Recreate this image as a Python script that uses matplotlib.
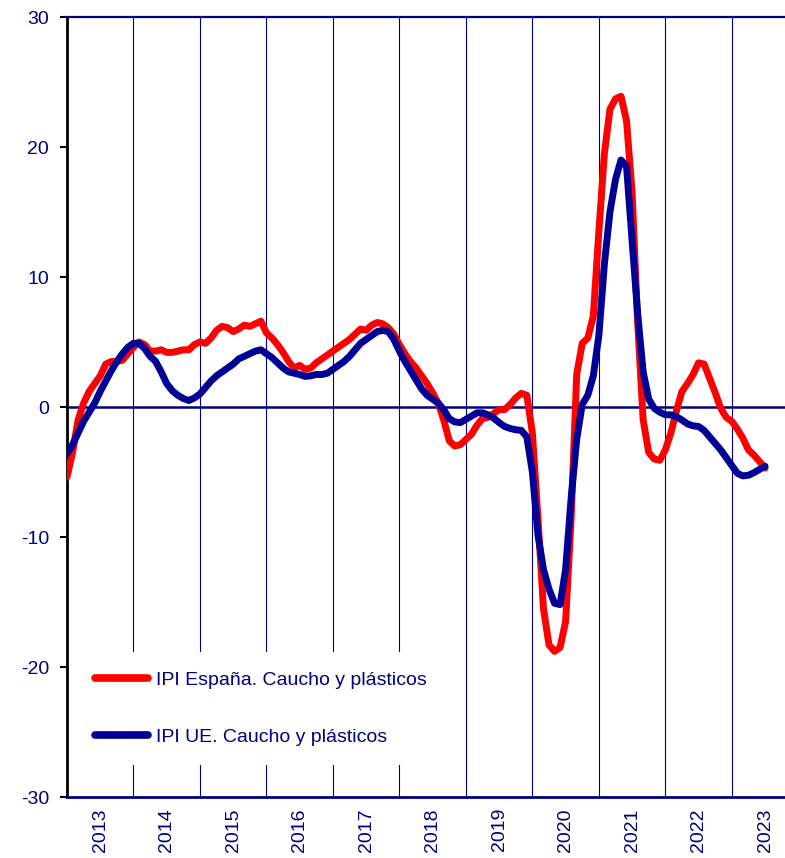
"""IPI Caucho y plásticos: España vs UE (tasa de variación, %)"""

import numpy as np
import matplotlib
matplotlib.use("Agg")
import matplotlib.pyplot as plt

plt.rcParams['font.family'] = ['Liberation Sans', 'DejaVu Sans']
plt.rcParams['axes.unicode_minus'] = False

# Monthly data, Jan 2013 - Jul 2023
start_year = 2013
years = list(range(2013, 2024))

ipi_es = [
    # 2013
    -5.4, -3.5, -1.0, 0.3, 1.2, 1.8, 2.4, 3.3, 3.5, 3.5, 3.6, 4.1,
    # 2014
    4.6, 5.0, 4.8, 4.3, 4.3, 4.4, 4.2, 4.2, 4.3, 4.4, 4.4, 4.8,
    # 2015
    5.0, 4.9, 5.3, 5.9, 6.2, 6.1, 5.8, 6.0, 6.3, 6.2, 6.4, 6.6,
    # 2016
    5.7, 5.3, 4.8, 4.2, 3.5, 3.0, 3.2, 2.9, 3.0, 3.4, 3.7, 4.0,
    # 2017
    4.3, 4.6, 4.9, 5.2, 5.6, 6.0, 5.9, 6.3, 6.5, 6.4, 6.1, 5.6,
    # 2018
    4.8, 4.1, 3.5, 3.0, 2.4, 1.8, 1.1, 0.3, -1.0, -2.6, -3.0, -2.9,
    # 2019
    -2.5, -2.1, -1.4, -0.9, -0.8, -0.5, -0.2, -0.2, 0.2, 0.7, 1.05, 0.9,
    # 2020
    -2.0, -8.5, -15.5, -18.3, -18.8, -18.5, -16.5, -8.5, 2.5, 4.9, 5.3, 7.0,
    # 2021
    13.5, 19.5, 22.9, 23.7, 23.9, 22.0, 16.5, 6.5, -1.0, -3.5, -4.0, -4.1,
    # 2022
    -3.3, -2.0, -0.3, 1.2, 1.8, 2.5, 3.4, 3.3, 2.2, 1.1, -0.1, -0.8,
    # 2023
    -1.1, -1.7, -2.4, -3.3, -3.7, -4.2, -4.7,
]

ipi_ue = [
    # 2013
    -3.6, -2.9, -2.0, -1.1, -0.4, 0.3, 1.2, 2.0, 2.8, 3.5, 4.1, 4.6,
    # 2014
    4.9, 4.9, 4.5, 3.9, 3.5, 2.7, 1.8, 1.25, 0.9, 0.65, 0.5, 0.7,
    # 2015
    1.0, 1.5, 2.0, 2.4, 2.7, 3.0, 3.3, 3.7, 3.9, 4.1, 4.3, 4.4,
    # 2016
    4.1, 3.8, 3.4, 3.0, 2.7, 2.6, 2.5, 2.35, 2.4, 2.5, 2.5, 2.6,
    # 2017
    2.9, 3.2, 3.5, 3.9, 4.4, 4.9, 5.2, 5.5, 5.8, 5.9, 5.8, 5.2,
    # 2018
    4.3, 3.5, 2.8, 2.1, 1.4, 0.9, 0.6, 0.3, -0.2, -0.9, -1.15, -1.2,
    # 2019
    -0.95, -0.7, -0.45, -0.45, -0.6, -0.85, -1.2, -1.5, -1.65, -1.75, -1.8, -2.3,
    # 2020
    -5.0, -9.8, -12.5, -14.0, -15.1, -15.2, -12.5, -7.0, -2.5, 0.2, 0.9, 2.4,
    # 2021
    5.5, 11.0, 15.0, 17.5, 19.0, 18.5, 12.8, 7.2, 2.7, 0.6, -0.1, -0.4,
    # 2022
    -0.6, -0.6, -0.75, -1.0, -1.3, -1.45, -1.5, -1.8, -2.3, -2.8, -3.3, -3.9,
    # 2023
    -4.5, -5.1, -5.3, -5.25, -5.05, -4.8, -4.55,
]

labels = ['IPI España. Caucho y plásticos', 'IPI UE. Caucho y plásticos']

navy = '#000080'
red = '#FF0000'
blue = '#000096'

x = start_year + np.arange(len(ipi_es)) / 12.0

fig = plt.figure(figsize=(7.85, 8.58), dpi=100)
ax = fig.add_axes([67 / 785, 61 / 858, 718 / 785, 780 / 858])

# year separators
for yr in years[1:]:
    ax.axvline(yr, color=navy, linewidth=0.8, zorder=1)
ax.axhline(0, color=navy, linewidth=1.8, zorder=2)

ax.plot(x, ipi_es, color=red, linewidth=5, solid_joinstyle='round',
        solid_capstyle='round', label=labels[0], zorder=3)
ax.plot(x, ipi_ue, color=blue, linewidth=5, solid_joinstyle='round',
        solid_capstyle='round', label=labels[1], zorder=4)

ax.set_xlim(2013, 2023.80)
ax.set_ylim(-30, 30)

# y axis
ax.set_yticks(range(-30, 31, 10))
ax.tick_params(axis='y', direction='out', length=5, width=1.5, color='black',
               labelcolor=navy, labelsize=14, pad=8)

# x axis: year labels centred on each year
ax.set_xticks([])
ax.set_xticks([yr + 0.5 for yr in years], minor=True)
ax.set_xticklabels([str(yr) for yr in years], minor=True, rotation=90,
                   color=navy, fontsize=14)
ax.tick_params(axis='x', which='minor', length=0, pad=8)

ax.spines['left'].set_color('black')
ax.spines['left'].set_linewidth(2)
ax.spines['bottom'].set_color(navy)
ax.spines['bottom'].set_linewidth(2)
ax.spines['top'].set_color(navy)
ax.spines['top'].set_linewidth(1.6)
ax.spines['right'].set_visible(False)

leg = ax.legend(loc='lower left', bbox_to_anchor=(0.0125, 0.041), fontsize=14,
                frameon=True, facecolor='white', edgecolor='none', framealpha=1,
                handlelength=2.7, handletextpad=0.4, labelspacing=2.0,
                borderpad=1.0, borderaxespad=0.0, fancybox=False)
for t in leg.get_texts():
    t.set_color(navy)
for h in leg.legend_handles:
    h.set_linewidth(5.5)

plt.savefig('out.png', dpi=100)
